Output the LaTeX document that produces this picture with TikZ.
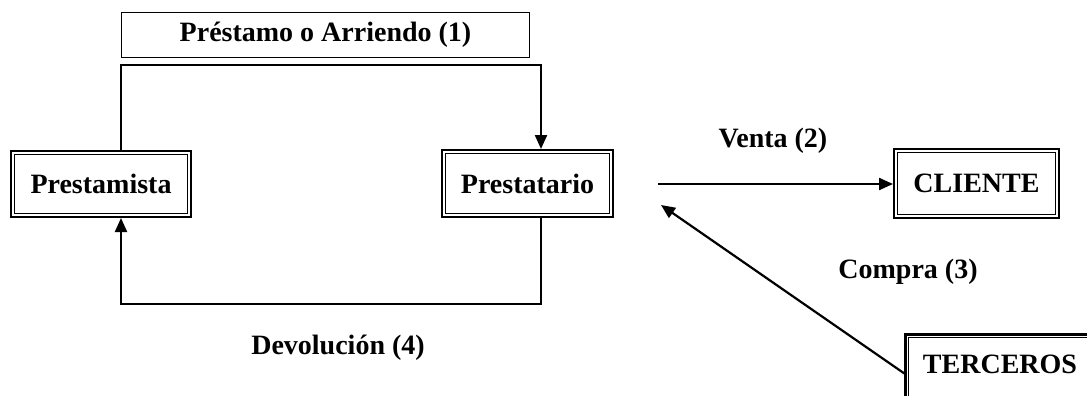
\documentclass[tikz,border=0pt]{standalone}
\usepackage{fontspec}
\setmainfont{Liberation Serif}
\usetikzlibrary{arrows.meta}
\begin{document}
\begin{tikzpicture}[x=1pt,y=-1pt,
  every node/.style={font=\fontsize{28}{30}\selectfont\bfseries, inner sep=0pt},
  dbl/.style={draw, line width=2.4pt, minimum width=#1},
  inner/.style={draw, line width=1.2pt},
  lbl/.style={draw, line width=1.5pt},
  conn/.style={line width=2.2pt},
  arr/.style={conn, -{Triangle[length=14pt,width=12pt]}}]
\clip (0,0) rectangle (1087,396);
\useasboundingbox (0,0) rectangle (1087,396);
\node[dbl=179.6pt, minimum height=65.6pt] (lender) at (101,184) {Prestamista};
\node[dbl=170.6pt, minimum height=66.6pt] (borrower) at (527.5,183.5) {Prestatario};
\node[dbl=164.6pt, minimum height=68.6pt] (client) at (976.5,183.5) {CLIENTE};
\node[dbl=194pt, minimum height=70pt, anchor=north west] (third) at (904.2,333.2) {};
\node (thirdtxt) at (1000,364) {TERCEROS};
\foreach \n in {lender,borrower,client,third}
  \draw[inner] ([shift={(4.5pt,-4.5pt)}]\n.north west) rectangle ([shift={(-4.5pt,4.5pt)}]\n.south east);
\node[lbl, minimum width=408pt, minimum height=45pt] (loan) at (325.5,35) {Préstamo o Arriendo (1)};
\node (venta) at (773,141) {Venta (2)};
\node (compra) at (908,272) {Compra (3)};
\node (devol) at (338,348) {Devolución (4)};
\draw[arr] ([xshift=20pt]lender.north) -- ++(0,-85) -| ([xshift=13.5pt]borrower.north);
\draw[arr] ([xshift=13.5pt]borrower.south) -- ++(0,86) -| ([xshift=20pt]lender.south);
\coordinate (vs) at (658,184);
\draw[arr] (vs) -- (vs -| client.west);
\coordinate (ce) at (661,205);
\draw[arr] ([yshift=-4pt]third.west) -- (ce);
\end{tikzpicture}
\end{document}
